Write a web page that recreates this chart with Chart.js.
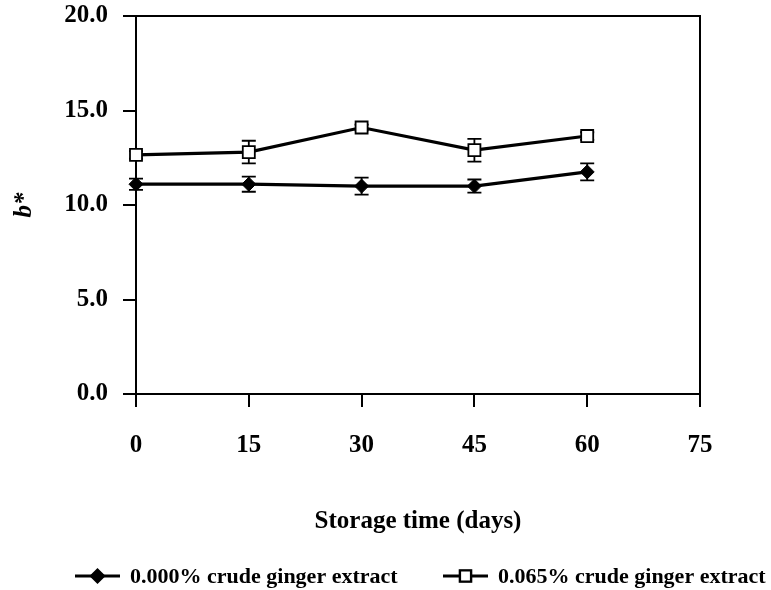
<!DOCTYPE html>
<html>
<head>
<meta charset="utf-8">
<script src="https://cdn.jsdelivr.net/npm/chart.js@4.4.0/dist/chart.umd.min.js"></script>
<style>
  html, body { margin: 0; padding: 0; background: #fff; }
  #wrap { width: 771px; height: 590px; position: relative; }
</style>
</head>
<body>
<div id="wrap"><canvas id="chart"></canvas></div>
<script>
// Data (b* over storage time)
const days = [0, 15, 30, 45, 60];
const controlVals = [11.1, 11.1, 11.0, 11.0, 11.75];
const controlErr = [0.3, 0.4, 0.45, 0.35, 0.45];
const gingerVals = [12.65, 12.8, 14.1, 12.9, 13.65];
const gingerErr = [0.2, 0.6, 0.15, 0.6, 0.2];
const seriesNames = ['0.000% crude ginger extract', '0.065% crude ginger extract'];
const xTicks = [0, 15, 30, 45, 60, 75];
const yTicks = [0, 5, 10, 15, 20];

const FONT = 'Liberation Serif';

function toPoints(vals) {
  return days.map((d, i) => ({ x: d, y: vals[i] }));
}

// Error bars drawn behind the markers
const errorBars = {
  id: 'errorBars',
  beforeDatasetsDraw(chart) {
    const { ctx, scales: { x, y } } = chart;
    const errs = [controlErr, gingerErr];
    ctx.save();
    ctx.strokeStyle = '#000';
    ctx.lineWidth = 1.8;
    chart.data.datasets.forEach((ds, di) => {
      ds.data.forEach((p, i) => {
        const px = x.getPixelForValue(p.x);
        const top = y.getPixelForValue(p.y + errs[di][i]);
        const bot = y.getPixelForValue(p.y - errs[di][i]);
        ctx.beginPath();
        ctx.moveTo(px, top); ctx.lineTo(px, bot);
        ctx.moveTo(px - 7, top); ctx.lineTo(px + 7, top);
        ctx.moveTo(px - 7, bot); ctx.lineTo(px + 7, bot);
        ctx.stroke();
      });
    });
    ctx.restore();
  }
};

// Top and right edges of the plot frame
const frame = {
  id: 'frame',
  afterDraw(chart) {
    const { ctx, chartArea: a } = chart;
    ctx.save();
    ctx.strokeStyle = '#000';
    ctx.lineWidth = 2;
    ctx.beginPath();
    ctx.moveTo(a.left - 13, a.top);
    ctx.lineTo(a.right, a.top);
    ctx.lineTo(a.right, a.bottom + 13);
    ctx.stroke();
    ctx.restore();
  }
};

// Legend with line + marker like the original
const bottomLegend = {
  id: 'bottomLegend',
  afterDraw(chart) {
    const { ctx } = chart;
    const items = [
      { x0: 75, ds: chart.data.datasets[0] },
      { x0: 443, ds: chart.data.datasets[1] }
    ];
    const yy = 576;
    ctx.save();
    items.forEach((it, i) => {
      ctx.strokeStyle = '#000';
      ctx.lineWidth = 3;
      ctx.beginPath();
      ctx.moveTo(it.x0, yy); ctx.lineTo(it.x0 + 45, yy);
      ctx.stroke();
      Chart.helpers.drawPoint(ctx, {
        pointStyle: it.ds.pointStyle,
        radius: it.ds.pointRadius - 1,
        borderWidth: it.ds.pointBorderWidth
      }, it.x0 + 22.5, yy);
      ctx.fillStyle = it.ds.pointBackgroundColor;
      ctx.strokeStyle = '#000';
      ctx.lineWidth = it.ds.pointBorderWidth;
      ctx.fill();
      ctx.stroke();
      ctx.fillStyle = '#000';
      ctx.font = 'bold 22px "' + FONT + '"';
      ctx.textBaseline = 'middle';
      ctx.textAlign = 'left';
      ctx.fillText(seriesNames[i], it.x0 + 55, yy + 1);
    });
    ctx.restore();
  }
};

new Chart(document.getElementById('chart'), {
  type: 'line',
  data: {
    datasets: [
      {
        label: seriesNames[0],
        data: toPoints(controlVals),
        borderColor: '#000',
        borderWidth: 3.2,
        pointStyle: 'rectRot',
        pointRadius: 7,
        pointBackgroundColor: '#000',
        pointBorderColor: '#000',
        pointBorderWidth: 1,
        tension: 0,
        clip: false
      },
      {
        label: seriesNames[1],
        data: toPoints(gingerVals),
        borderColor: '#000',
        borderWidth: 3.2,
        pointStyle: 'rect',
        pointRadius: 8.5,
        pointBackgroundColor: '#fff',
        pointBorderColor: '#000',
        pointBorderWidth: 1.8,
        tension: 0,
        clip: false
      }
    ]
  },
  options: {
    responsive: true,
    maintainAspectRatio: false,
    animation: false,
    layout: { padding: { left: 0, right: 71, top: 16, bottom: 0 } },
    plugins: {
      legend: { display: false },
      tooltip: { enabled: false }
    },
    scales: {
      x: {
        type: 'linear',
        min: 0,
        max: 75,
        afterBuildTicks: s => { s.ticks = xTicks.map(v => ({ value: v })); },
        afterFit: s => { s.height = 196; },
        grid: { drawOnChartArea: false, tickLength: 13, color: '#000', lineWidth: 2 },
        border: { color: '#000', width: 2 },
        ticks: {
          color: '#000',
          padding: 24,
          font: { family: FONT, weight: 'bold', size: 25 }
        },
        title: {
          display: true,
          text: 'Storage time (days)',
          color: '#000',
          font: { family: FONT, weight: 'bold', size: 25 },
          padding: { bottom: 53 }
        }
      },
      y: {
        min: 0,
        max: 20,
        afterBuildTicks: s => { s.ticks = yTicks.map(v => ({ value: v })); },
        afterFit: s => { s.width = 136; s.paddingTop = 0; s.paddingBottom = 0; },
        grid: { drawOnChartArea: false, tickLength: 13, color: '#000', lineWidth: 2 },
        border: { color: '#000', width: 2 },
        ticks: {
          color: '#000',
          padding: 15,
          callback: v => v.toFixed(1),
          font: { family: FONT, weight: 'bold', size: 25 }
        },
        title: {
          display: true,
          text: 'b*',
          color: '#000',
          font: { family: FONT, weight: 'bold', style: 'italic', size: 25 },
          padding: { top: 10 }
        }
      }
    }
  },
  plugins: [errorBars, frame, bottomLegend]
});
</script>
</body>
</html>
